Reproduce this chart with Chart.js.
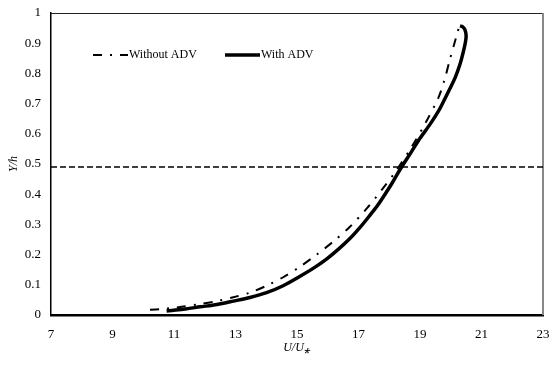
<!DOCTYPE html>
<html>
<head>
<meta charset="utf-8">
<script src="https://cdn.jsdelivr.net/npm/chart.js@4.4.1/dist/chart.umd.min.js"></script>
<style>
  html, body { margin: 0; padding: 0; background: #fff; }
  #wrap { width: 550px; height: 365px; }
</style>
</head>
<body>
<div id="wrap"><canvas id="profileChart"></canvas></div>
<script>
// velocity profile U/U* vs Y/h
const withoutU = [10.22, 10.6, 11.0, 11.3, 11.85, 12.39, 12.93, 13.47, 14.01, 14.55, 15.1, 15.64, 16.2, 16.72, 17.27, 17.8, 18.24, 18.75, 19.2, 19.6, 19.8, 19.97, 20.12, 20.22, 20.27];
const withoutY = [0.017, 0.02, 0.024, 0.028, 0.036, 0.046, 0.059, 0.074, 0.097, 0.125, 0.16, 0.2, 0.245, 0.292, 0.353, 0.42, 0.48, 0.56, 0.64, 0.72, 0.78, 0.845, 0.9, 0.935, 0.955];

const withU = [10.76, 11.3, 11.85, 12.4, 12.93, 13.47, 14.01, 14.55, 15.1, 15.55, 15.97, 16.35, 16.72, 17.05, 17.37, 17.6, 17.8, 18.1, 18.4, 18.7, 19.0, 19.33, 19.6, 19.76, 19.95, 20.14, 20.3, 20.41, 20.48, 20.5, 20.46, 20.38, 20.3];
const withY = [0.013, 0.019, 0.027, 0.035, 0.046, 0.058, 0.074, 0.097, 0.128, 0.156, 0.186, 0.218, 0.253, 0.29, 0.33, 0.36, 0.39, 0.438, 0.49, 0.537, 0.585, 0.632, 0.675, 0.706, 0.745, 0.785, 0.83, 0.872, 0.905, 0.925, 0.945, 0.955, 0.957];

const refLineY = 0.49;   // horizontal dashed line
const xTicks = [7, 9, 11, 13, 15, 17, 19, 21, 23];

const toPoints = (xs, ys) => xs.map((x, i) => ({ x: x, y: ys[i] }));

const serif = '"Liberation Serif", "Times New Roman", serif';
const tickFont = { family: serif, size: 13 };

// frame on top / right of plot area + legend inside plot
const framePlugin = {
    id: 'frame',
    beforeDatasetsDraw(chart) {
        const a = chart.chartArea;
        const c = chart.ctx;
        c.save();
        c.strokeStyle = '#222';
        c.lineWidth = 1;
        c.beginPath();
        c.moveTo(a.left, a.top + 0.5);
        c.lineTo(a.right, a.top + 0.5);
        c.stroke();
        c.strokeStyle = '#888';
        c.lineWidth = 2;
        c.beginPath();
        c.moveTo(a.right, a.top);
        c.lineTo(a.right, a.bottom);
        c.stroke();
        c.restore();
    },
    afterDraw(chart) {
        const c = chart.ctx;
        const items = [
            { ds: chart.data.datasets[0], x0: 93, x1: 128 },
            { ds: chart.data.datasets[1], x0: 225, x1: 260 }
        ];
        c.save();
        c.font = '12px ' + serif;
        c.fillStyle = '#000';
        c.textBaseline = 'middle';
        items.forEach(it => {
            c.strokeStyle = it.ds.borderColor;
            c.lineWidth = it.ds.borderWidth;
            c.setLineDash(it.ds.borderDash || []);
            c.beginPath();
            c.moveTo(it.x0, 55);
            c.lineTo(it.x1, 55);
            c.stroke();
            c.fillText(it.ds.label, it.x1 + 1, 55);
        });
        c.restore();
    }
};

const ctx = document.getElementById('profileChart').getContext('2d');

const profileChart = new Chart(ctx, {
    type: 'scatter',
    data: {
        datasets: [
            {
                label: 'Without ADV',
                data: toPoints(withoutU, withoutY),
                showLine: true,
                borderColor: '#000',
                borderWidth: 2,
                borderDash: [9, 8, 2, 8],
                pointRadius: 0,
                tension: 0.3
            },
            {
                label: 'With ADV',
                data: toPoints(withU, withY),
                showLine: true,
                borderColor: '#000',
                borderWidth: 3.5,
                pointRadius: 0,
                tension: 0.3
            },
            {
                label: 'ref',
                data: toPoints([xTicks[0], xTicks[xTicks.length - 1]], [refLineY, refLineY]),
                showLine: true,
                borderColor: '#000',
                borderWidth: 1.5,
                borderDash: [6, 3],
                pointRadius: 0
            }
        ]
    },
    options: {
        responsive: true,
        maintainAspectRatio: false,
        animation: false,
        layout: { padding: { top: 13, right: 7, left: 0, bottom: 0 } },
        plugins: {
            legend: { display: false },
            tooltip: { enabled: false }
        },
        scales: {
            x: {
                type: 'linear',
                min: 7,
                max: 23,
                afterBuildTicks: s => { s.ticks = xTicks.map(v => ({ value: v })); },
                afterFit: s => { s.height = 50; s.paddingLeft = 0; s.paddingRight = 0; },
                grid: { display: false, drawTicks: false },
                border: { color: '#000', width: 2.5 },
                ticks: { color: '#000', font: tickFont, padding: 12, maxRotation: 0 },
                title: {
                    display: true,
                    text: 'U/U⁎',
                    color: '#000',
                    font: { family: serif, size: 12, style: 'italic' },
                    padding: { top: 0, bottom: 10 }
                }
            },
            y: {
                min: 0,
                max: 1,
                afterFit: s => { s.width = 51; s.paddingTop = 0; s.paddingBottom = 0; },
                grid: { display: false, drawTicks: false },
                border: { color: '#000', width: 1.5 },
                ticks: {
                    color: '#000',
                    font: tickFont,
                    stepSize: 0.1,
                    padding: 10,
                    callback: v => String(+v.toFixed(1))
                },
                title: {
                    display: true,
                    text: 'Y/h',
                    color: '#000',
                    font: { family: serif, size: 12, style: 'italic' },
                    padding: { top: 7, bottom: 0 }
                }
            }
        }
    },
    plugins: [framePlugin]
});
</script>
</body>
</html>
